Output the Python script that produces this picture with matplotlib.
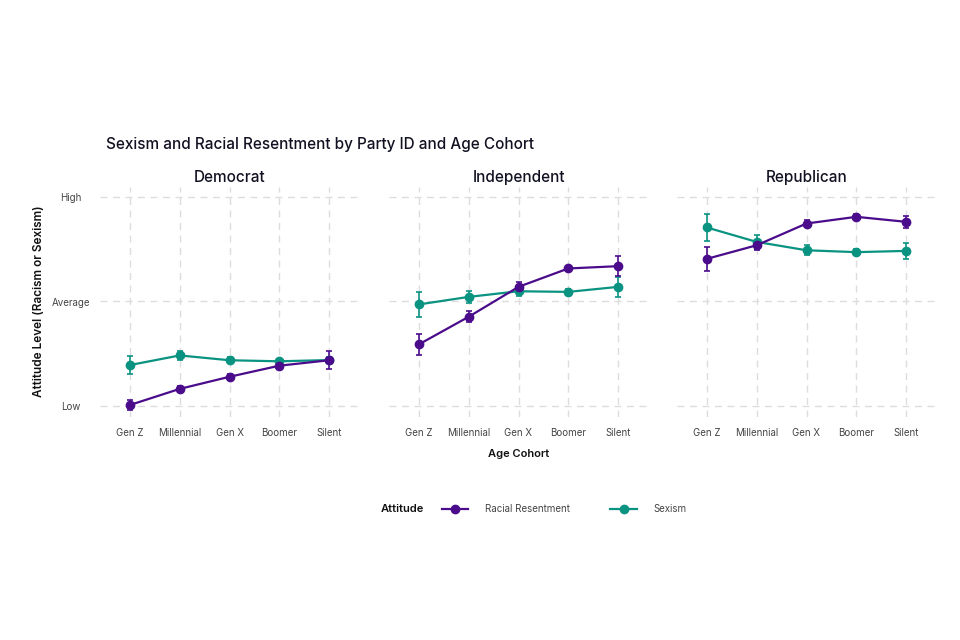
import numpy as np
import matplotlib
matplotlib.use("Agg")
import matplotlib.pyplot as plt
from matplotlib.lines import Line2D

plt.rcParams['font.family'] = ['Inter', 'DejaVu Sans']

# Data (0 = Low, 0.5 = Average, 1 = High)
cohorts = ["Gen Z", "Millennial", "Gen X", "Boomer", "Silent"]
parties = ["Democrat", "Independent", "Republican"]

dem_racial = [0.005, 0.082, 0.140, 0.193, 0.219]
dem_racial_err = [0.024, 0.012, 0.012, 0.010, 0.042]
dem_sexism = [0.196, 0.242, 0.219, 0.214, 0.220]
dem_sexism_err = [0.042, 0.021, 0.014, 0.010, 0.014]

ind_racial = [0.295, 0.427, 0.570, 0.658, 0.669]
ind_racial_err = [0.050, 0.026, 0.024, 0.014, 0.049]
ind_sexism = [0.486, 0.522, 0.549, 0.546, 0.570]
ind_sexism_err = [0.059, 0.030, 0.025, 0.015, 0.048]

rep_racial = [0.704, 0.769, 0.873, 0.905, 0.881]
rep_racial_err = [0.057, 0.025, 0.019, 0.014, 0.029]
rep_sexism = [0.854, 0.785, 0.745, 0.736, 0.742]
rep_sexism_err = [0.065, 0.032, 0.024, 0.014, 0.039]

y_ticks = [0, 0.5, 1]
y_labels = ["Low", "Average", "High"]

racial_color = "#4b0c8c"
sexism_color = "#0b9382"

panels = [
    (dem_racial, dem_racial_err, dem_sexism, dem_sexism_err),
    (ind_racial, ind_racial_err, ind_sexism, ind_sexism_err),
    (rep_racial, rep_racial_err, rep_sexism, rep_sexism_err),
]

fig = plt.figure(figsize=(9.6, 6.4), dpi=100)
lefts = [100, 389, 677]
x = np.arange(len(cohorts))

for i, (party, (rr, rre, ss, sse)) in enumerate(zip(parties, panels)):
    ax = fig.add_axes([lefts[i] / 960, (640 - 416.5) / 640, 259 / 960, 230 / 640])
    for vals, errs, col in [(ss, sse, sexism_color), (rr, rre, racial_color)]:
        ax.errorbar(x, vals, yerr=errs, color=col, lw=1.6, marker="o", ms=6,
                    capsize=2, elinewidth=1.2, capthick=1.2, zorder=3)
    ax.set_xlim(-0.6, 4.6)
    ax.set_ylim(-0.05, 1.05)
    ax.set_xticks(x)
    ax.set_xticklabels(cohorts, fontsize=7, color="#444444")
    ax.set_yticks(y_ticks)
    if i == 0:
        ax.set_yticklabels(y_labels, fontsize=7, color="#444444", ha="center")
    else:
        ax.set_yticklabels([])
    ax.tick_params(axis="x", length=0, pad=8)
    ax.tick_params(axis="y", length=0, pad=21)
    ax.grid(True, color="#dddddd", linestyle=(0, (5, 4)), lw=1)
    for s in ax.spines.values():
        s.set_visible(False)
    ax.set_title(party, fontsize=11, fontweight="medium", color="#111122", pad=3)
    if i == 0:
        ax.set_ylabel("Attitude Level (Racism or Sexism)", fontsize=8.5,
                      fontweight="semibold", color="#111111", labelpad=5)
    if i == 1:
        ax.set_xlabel("Age Cohort", fontsize=8, fontweight="semibold",
                      color="#111111", labelpad=8)

fig.text(106 / 960, 1 - 145 / 640, "Sexism and Racial Resentment by Party ID and Age Cohort",
         fontsize=11, fontweight="medium", color="#111122", va="center", ha="left")

handles = [
    Line2D([], [], color=racial_color, marker="o", ms=6, lw=1.6),
    Line2D([], [], color=sexism_color, marker="o", ms=6, lw=1.6),
]
leg = fig.legend(handles, ["Racial Resentment", "Sexism"], loc="center left",
                 bbox_to_anchor=(442 / 960, 1 - 509 / 640), ncol=2, frameon=False,
                 fontsize=7, handlelength=2.7, columnspacing=4.2, handletextpad=1.7,
                 borderpad=0, borderaxespad=0)
for t in leg.get_texts():
    t.set_color("#444444")
fig.text(381 / 960, 1 - 509 / 640, "Attitude", fontsize=8, fontweight="semibold",
         color="#111111", va="center", ha="left")

fig.savefig("out.png", dpi=100, facecolor="white")
